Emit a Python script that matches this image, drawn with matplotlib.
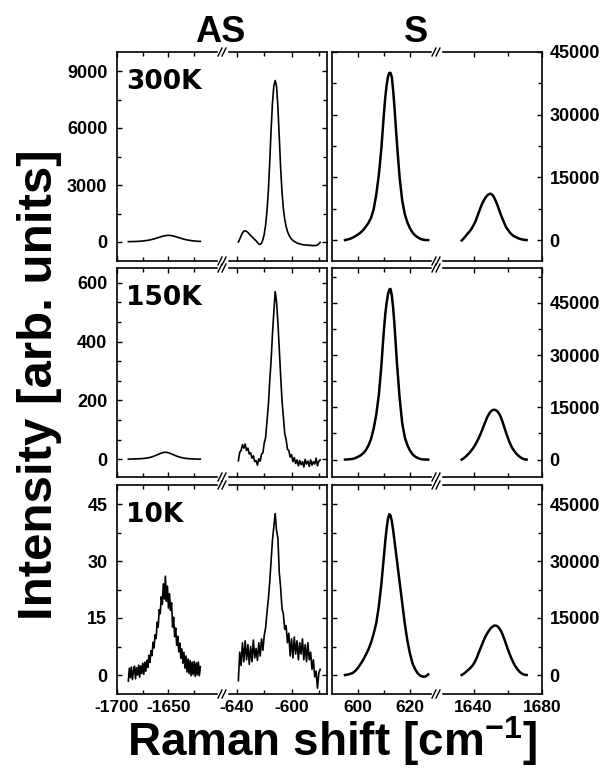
import matplotlib
matplotlib.use('Agg')
import matplotlib.pyplot as plt
from matplotlib.lines import Line2D
from matplotlib.ticker import FixedLocator, FixedFormatter, NullFormatter

plt.rcParams['font.family'] = ['Liberation Sans', 'DejaVu Sans']
plt.rcParams['font.weight'] = 'bold'
plt.rcParams['mathtext.fontset'] = 'custom'
plt.rcParams['mathtext.rm'] = 'Liberation Sans:bold'
plt.rcParams['mathtext.bf'] = 'Liberation Sans:bold'
plt.rcParams['mathtext.default'] = 'bf'

# wavenumber grids (cm-1) of the four spectral windows
x_as1 = [-1689, -1688, -1687, -1686, -1685, -1684, -1683, -1682, -1681, -1680,
         -1679, -1678, -1677, -1676, -1675, -1674, -1673, -1672, -1671, -1670,
         -1669, -1668, -1667, -1666, -1665, -1664, -1663, -1662, -1661, -1660,
         -1659, -1658, -1657, -1656, -1655, -1654, -1653, -1652, -1651, -1650,
         -1649, -1648, -1647, -1646, -1645, -1644, -1643, -1642, -1641, -1640,
         -1639, -1638, -1637, -1636, -1635, -1634, -1633, -1632, -1631, -1630,
         -1629, -1628, -1627, -1626, -1625, -1624, -1623, -1622, -1621, -1620,
         -1619]
x_as2 = [-639, -638, -637, -636, -635, -634, -633, -632, -631, -630,
         -629, -628, -627, -626, -625, -624, -623, -622, -621, -620,
         -619, -618, -617, -616, -615, -614, -613, -612, -611, -610,
         -609, -608, -607, -606, -605, -604, -603, -602, -601, -600,
         -599, -598, -597, -596, -595, -594, -593, -592, -591, -590,
         -589, -588, -587, -586, -585, -584, -583, -582, -581, -580,
         -579]
x_s1 = [595, 596, 597, 598, 599, 600, 601, 602, 603, 604,
        605, 606, 607, 608, 609,
        609.5, 610, 610.5, 611, 611.5, 612, 612.5, 613, 613.5, 614, 614.5, 615,
        616, 617, 618, 619, 620, 621, 622, 623, 624, 625, 626, 627]
x_s2 = [1633, 1634, 1635, 1636, 1637, 1638, 1639, 1640, 1641, 1642,
        1643, 1644, 1645, 1646, 1647, 1648, 1649, 1650, 1651, 1652,
        1653, 1654, 1655, 1656, 1657, 1658, 1659, 1660, 1661, 1662,
        1663, 1664, 1665, 1666, 1667, 1668, 1669, 1670, 1671]

# 300K
as1_300 = [18, 19, 20, 21, 23, 25, 26, 28, 31, 33,
           36, 40, 44, 48, 54, 60, 66, 74, 82, 90,
           100, 111, 123, 136, 149, 165, 180, 196, 212, 230,
           247, 264, 281, 297, 312, 324, 335, 343, 348, 350,
           348, 343, 335, 324, 312, 297, 281, 264, 247, 230,
           212, 196, 180, 165, 149, 136, 123, 111, 100, 90,
           82, 74, 66, 60, 54, 48, 44, 40, 36, 33,
           31]
as2_300 = [0, 150, 330, 480, 570, 590, 560, 500, 420, 340,
           270, 200, 130, 60, -20, -110, -130, -60, 120, 420,
           900, 1650, 2700, 4200, 5900, 7300, 8200, 8500, 8200, 7100,
           5500, 3900, 2650, 1750, 1200, 820, 560, 380, 250, 150,
           80, 30, -10, -50, -80, -100, -120, -140, -150, -160,
           -170, -150, -190, -165, -200, -175, -195, -180, -160, -100,
           -20]
s1_300 = [0, 150, 330, 600, 950, 1350, 1800, 2400, 3200, 4100,
          5300, 7300, 10800, 15500, 22000,
          26300, 30500, 34200, 37000, 39000, 40000, 40000, 39000, 36000, 32000, 27500, 23000,
          15000, 9500, 6200, 4200, 2800, 1800, 1100, 650, 300, 100, 20, 0]
s2_300 = [-100, 300, 800, 1300, 1800, 2250, 2850, 3600, 4400, 5500,
          6600, 7700, 8700, 9500, 10200, 10700, 11000, 11100, 10800, 10200,
          9300, 8300, 7100, 6000, 5000, 4000, 3100, 2500, 1900, 1450,
          1100, 850, 650, 450, 300, 200, 100, 50, 0]

# 150K
as1_150 = [0.4, 1.3, 0.6, 1.5, 0.9, 1.6, 1.1, 1.8, 1.3, 2.0,
           1.6, 2.3, 2.0, 2.8, 2.5, 3.4, 3.2, 4.1, 4.2, 5.2,
           5.6, 6.6, 7.4, 8.6, 9.6, 11.1, 12.2, 13.9, 15.2, 16.9,
           18.3, 19.9, 21.1, 22.4, 23.1, 23.9, 24.0, 23.7, 23.2, 22.2,
           21.3, 19.7, 18.5, 16.7, 15.4, 13.7, 12.4, 10.9, 9.8, 8.4,
           7.6, 6.4, 5.8, 4.9, 4.4, 3.6, 3.4, 2.5, 2.7, 1.9,
           2.2, 1.4, 1.8, 1.1, 1.5, 0.8, 1.3, 0.6, 1.1, 0.3,
           0.8]
as2_150 = [-5, 24, 30, 50, 38, 52, 30, 38, 18, 22,
           4, 12, -8, -4, -20, 2, -6, 18, 22, 56,
           74, 130, 185, 265, 335, 425, 500, 570, 535, 465,
           375, 285, 200, 145, 88, 68, 34, 30, 8, 16,
           -8, 6, -14, -2, -22, -4, -18, -8, -26, 0,
           -16, -6, -24, -2, -20, -8, -16, 4, -22, -6,
           -2]
s1_150 = [0, 50, 120, 200, 450, 800, 1200, 1800, 2700, 4000,
          5900, 8800, 12800, 18500, 27000,
          32500, 37500, 41800, 45000, 47300, 48800, 49000, 47200, 43700, 39000, 33300, 27500,
          17800, 10500, 6400, 4100, 2600, 1500, 850, 450, 150, 50, 0, 0]
s2_150 = [0, 300, 700, 1150, 1650, 2200, 2800, 3500, 4300, 5200,
          6200, 7300, 8500, 9800, 11000, 12200, 13100, 13800, 14200, 14300,
          14200, 13800, 13100, 12100, 10700, 9200, 7700, 6300, 5000, 3900,
          3000, 2300, 1700, 1200, 800, 450, 200, 50, 0]

# 10K
as1_10 = [-1.6, 1.8, -0.7, 2.1, -1.2, 1.0, 2.3, -1.0, 1.9, 0.0,
          2.6, -0.6, 2.4, 0.4, 3.1, 0.2, 3.4, 1.0, 3.9, 2.0,
          5.2, 3.3, 6.4, 5.1, 8.6, 7.1, 10.6, 9.6, 13.9, 12.6,
          17.2, 16.1, 20.6, 18.6, 24.0, 20.0, 26.0, 19.4, 23.4, 17.6,
          21.4, 17.0, 19.0, 12.6, 15.2, 10.1, 12.4, 7.8, 10.2, 6.1,
          8.4, 4.4, 6.9, 3.1, 6.0, 1.8, 5.0, 0.8, 4.2, 0.4,
          3.8, -0.2, 3.4, 0.1, 3.6, -0.4, 3.2, 0.0, 3.4, -0.2,
          2.2]
as2_10 = [-1.5, 6.0, 2.5, 8.5, 3.5, 9.0, 4.0, 8.0, 2.8, 7.5,
          3.5, 9.2, 4.5, 7.0, 3.8, 8.5, 5.0, 9.5, 6.5, 10.5,
          12.5, 16.5, 20.0, 24.5, 30.0, 35.5, 39.0, 42.5, 38.0, 36.0,
          27.0, 23.0, 17.5, 16.0, 12.0, 13.0, 8.5, 11.0, 5.0, 9.5,
          4.5, 10.0, 5.5, 9.0, 4.0, 8.5, 5.5, 9.5, 4.0, 8.0,
          3.5, 8.5, 4.0, 6.0, 1.5, 4.0, -0.5, 1.0, -3.5, 0.5,
          1.5]
s1_10 = [0, 100, 300, 550, 1100, 1900, 2900, 4000, 5300, 6700,
         8500, 10800, 13600, 18000, 24000,
         27800, 31500, 35300, 38500, 41000, 42300, 42000, 40500, 38200, 35500, 32800, 30000,
         24500, 19000, 13500, 9000, 5600, 3000, 1500, 400, -200, -450, -400, 150]
s2_10 = [0, 250, 600, 1000, 1400, 1800, 2300, 2900, 3700, 4700,
         5900, 7000, 8100, 9200, 10200, 11000, 11700, 12300, 12700, 13000,
         13000, 12800, 12300, 11600, 10600, 9400, 8100, 6800, 5600, 4500,
         3500, 2600, 1900, 1300, 800, 450, 200, 50, 0]

temps = ['300K', '150K', '10K']
as_low = [as1_300, as1_150, as1_10]
as_high = [as2_300, as2_150, as2_10]
s_low = [s1_300, s1_150, s1_10]
s_high = [s2_300, s2_150, s2_10]

ylim_as = [(-1000, 10000), (-60, 650), (-5, 50)]
ylim_s = [(-5000, 45000), (-5000, 55000), (-5000, 50000)]
yt_as = [[0, 3000, 6000, 9000], [0, 200, 400, 600], [0, 15, 30, 45]]
ym_as = [[1500, 4500, 7500], [66.7, 133.3, 266.7, 333.3, 466.7, 533.3], [7.5, 22.5, 37.5]]
yt_s = [0, 15000, 30000, 45000]
ym_s = [7500, 22500, 37500, 52500]

# x windows: (xlim, major ticks, labels, minor ticks)
win_as1 = ((-1700, -1598), [-1700, -1650], ['-1700', '-1650'], [-1675, -1625])
win_as2 = ((-651, -574), [-640, -600], ['-640', '-600'], [-620, -580])
win_s1 = ((590, 630), [600, 620], ['600', '620'], [610])
win_s2 = ((1618, 1680), [1640, 1680], ['1640', '1680'], [1660])

W, H = 607, 775
fig = plt.figure(figsize=(W / 100, H / 100), dpi=100)


def fx(px):
    return px / W


def fy(py):
    return 1 - py / H


cols = [(117, 222, 327), (332, 436, 542)]
rows = [(52, 261), (268, 477), (485, 694)]


def setup(ax, win, ylim, yt, ym, side, labels, xlab):
    ax.set_xlim(win[0])
    ax.set_ylim(ylim)
    ax.xaxis.set_major_locator(FixedLocator(win[1]))
    ax.xaxis.set_minor_locator(FixedLocator(win[3]))
    ax.yaxis.set_major_locator(FixedLocator(yt))
    ax.yaxis.set_minor_locator(FixedLocator(ym))
    if xlab:
        ax.xaxis.set_major_formatter(FixedFormatter(win[2]))
    else:
        ax.xaxis.set_major_formatter(NullFormatter())
    ax.tick_params(which='both', direction='in', top=True, bottom=True,
                   left=(side == 'left'), right=(side == 'right'),
                   labelleft=(side == 'left' and labels),
                   labelright=(side == 'right' and labels),
                   width=1.0)
    ax.tick_params(which='major', length=3.5)
    ax.tick_params(which='minor', length=2.8)
    ax.tick_params(axis='x', pad=4, labelsize=12.5)
    ax.tick_params(axis='y', pad=7 if side == 'left' else 5.5, labelsize=13)
    for t in ax.get_xticklabels() + ax.get_yticklabels():
        t.set_fontweight('bold')
    ax.spines['right' if side == 'left' else 'left'].set_visible(False)
    for s in ax.spines.values():
        s.set_linewidth(1.2)


def brk(xm, y):
    # the "//" break sign on the frame
    fig.add_artist(Line2D([fx(xm - 3.5), fx(xm + 3.5)], [fy(y), fy(y)], color='white',
                          lw=2.5, transform=fig.transFigure, zorder=5))
    for dx in (-2, 2):
        fig.add_artist(Line2D([fx(xm + dx - 2), fx(xm + dx + 2)],
                              [fy(y + 4), fy(y - 4)], color='black', lw=1.0,
                              transform=fig.transFigure, zorder=6))


for i in range(3):
    y0, y1 = rows[i]
    last = (i == 2)
    for j in range(2):
        x0, xm, x1 = cols[j]
        ax_a = fig.add_axes([fx(x0), fy(y1), fx(xm) - fx(x0), fy(y0) - fy(y1)])
        ax_b = fig.add_axes([fx(xm), fy(y1), fx(x1) - fx(xm), fy(y0) - fy(y1)])
        if j == 0:
            ax_a.plot(x_as1, as_low[i], color='black', lw=1.2)
            ax_b.plot(x_as2, as_high[i], color='black', lw=1.2)
            setup(ax_a, win_as1, ylim_as[i], yt_as[i], ym_as[i], 'left', True, last)
            setup(ax_b, win_as2, ylim_as[i], yt_as[i], ym_as[i], 'right', False, last)
        else:
            ax_a.plot(x_s1, s_low[i], color='black', lw=1.8)
            ax_b.plot(x_s2, s_high[i], color='black', lw=1.8)
            setup(ax_a, win_s1, ylim_s[i], yt_s, ym_s, 'left', False, last)
            setup(ax_b, win_s2, ylim_s[i], yt_s, ym_s, 'right', True, last)
        brk(xm, y0)
        brk(xm, y1)
    fig.text(fx(126), fy(rows[i][0] + 37), temps[i], fontsize=19, family='DejaVu Sans',
             fontweight='bold', ha='left', va='baseline')

fig.text(fx(220), fy(42), 'AS', fontsize=26, fontweight='bold', ha='center', va='baseline')
fig.text(fx(416), fy(42), 'S', fontsize=26, fontweight='bold', ha='center', va='baseline')
fig.text(fx(52), fy(385), 'Intensity [arb. units]', rotation=90, rotation_mode='anchor',
         fontsize=35.5, fontweight='bold', ha='center', va='baseline')
fig.text(fx(332), fy(756), r'Raman shift [cm$^{-1}$]', fontsize=33,
         fontweight='bold', ha='center', va='baseline')

fig.savefig('out.png', dpi=100)
